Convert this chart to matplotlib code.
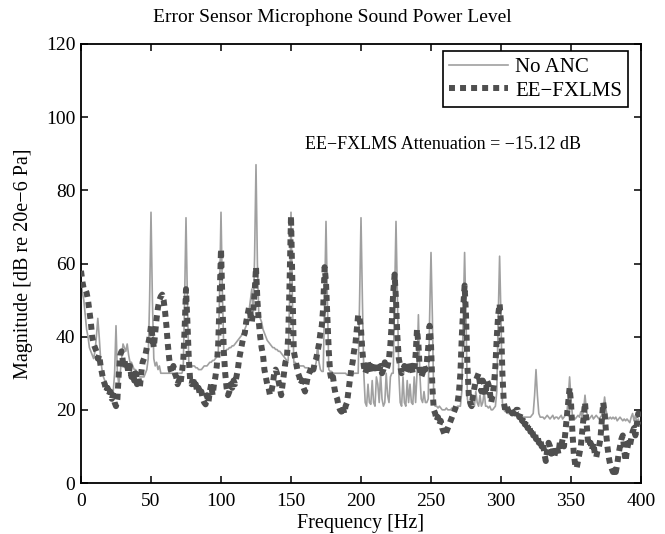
import numpy as np
import matplotlib
matplotlib.use("Agg")
import matplotlib.pyplot as plt
from matplotlib.lines import Line2D

plt.rcParams['font.family'] = ['Liberation Serif', 'DejaVu Serif']
plt.rcParams['mathtext.fontset'] = 'stix'

# Frequency grid (Hz), 1 Hz spacing
freq_hz = list(range(0, 401))

# No ANC spectrum (dB), one value per Hz from 0 to 400
no_anc_db = [
    55, 52, 50, 46, 42, 40, 37, 36, 35, 34,
    36, 40, 45, 40, 34, 31, 29, 28, 27, 26,
    25, 25, 24, 25, 30, 43, 30, 27, 30, 34,
    38, 37, 36, 38, 35, 33, 33, 32, 31, 31,
    30, 30, 29, 29, 29, 29, 30, 31, 34, 50,
    74, 50, 34, 32, 33, 31, 32, 30, 30, 30,
    30, 30, 30, 30, 30, 30, 30, 30, 30, 30,
    30, 30, 30, 31, 50, 72.5, 50, 33, 32, 32,
    32, 32, 31.5, 31.5, 31, 31, 31, 31.5, 32, 32,
    32, 32.5, 33, 33, 33.5, 33.5, 34, 34.5, 35, 52,
    74, 52, 36, 36, 36.5, 36.5, 37, 37, 37.5, 37.5,
    38, 38.5, 39, 39.5, 40, 40.5, 41, 42, 43, 44,
    47, 50, 53, 45, 62, 87, 60, 46, 45, 44,
    42, 41, 40, 39, 38.5, 38, 37.5, 37, 37, 36.5,
    36.5, 36, 36, 35.5, 35, 34.5, 34, 33.5, 33.5, 50,
    74, 50, 33, 33, 32.5, 32.5, 32, 32, 32, 32,
    31.5, 31.5, 31.5, 31, 31, 31, 31, 31.5, 33, 38,
    33, 31, 30.5, 30.5, 50, 71.5, 50, 31, 30.5, 30.5,
    30, 30, 30, 30, 30, 30, 30, 30, 30, 30,
    29.5, 29.5, 29.5, 29.5, 29.5, 30, 30, 30, 30, 50,
    72.5, 50, 30, 22, 21, 27, 22, 21.5, 28, 22,
    21, 29, 27, 22, 30, 23, 21, 22, 30, 24,
    22, 29, 30, 30, 50, 71.5, 50, 30, 22, 21,
    29, 22, 21, 28, 22, 27, 22, 21.5, 29, 22,
    30, 46, 30, 23, 22, 25, 22, 22, 23, 45,
    63, 45, 22, 21, 21, 20.5, 21, 20.5, 20, 20,
    20, 20.5, 20, 20, 20, 20.5, 20, 20, 20.5, 21,
    21, 21, 25, 45, 63, 45, 23, 21, 21, 22,
    24, 21, 25, 22, 21, 24, 21, 22, 25, 21,
    21, 20.5, 21, 20, 20, 20.5, 21, 25, 45, 62,
    45, 22, 20, 19.5, 19.5, 19, 19, 19, 19, 19,
    18.5, 18.5, 18.5, 18.5, 18, 18, 18, 18, 18, 18,
    18, 18, 18.5, 19, 24, 31, 24, 19, 18, 18,
    18, 17.5, 18, 18.5, 18, 17.5, 18, 18.5, 17.5, 18,
    18, 17.5, 18, 18.5, 17.5, 18, 18.5, 19, 23, 29,
    23, 18.5, 18, 17.5, 18, 18.5, 18, 19.5, 18, 20,
    24, 20, 18, 17.5, 18, 18.5, 17.5, 18, 18.5, 18,
    17.5, 18, 18.5, 20, 23.5, 20, 18, 17.5, 18, 17.5,
    18, 17.5, 18, 17, 17.5, 18, 17.5, 17, 17.5, 17,
    17.5, 17, 16.5, 18, 19, 17, 18.5, 16.5, 17.5, 16.5,
    16,
]

# EE-FXLMS spectrum (dB), one value per Hz from 0 to 400
ee_fxlms_db = [
    58, 55, 53, 53, 52, 50, 47, 44, 40, 38,
    37, 36, 34, 35, 32, 30, 28, 27, 25, 26,
    24, 25, 23, 24, 22, 21, 23, 30, 35, 36,
    33, 34, 31, 32, 30, 32, 29, 30, 28, 30,
    27, 29, 26, 30, 33, 34, 35, 37, 38, 40,
    43, 40, 37, 41, 45, 48, 50, 51, 51.5, 50,
    47, 43, 38, 34, 31, 30, 32, 30, 29, 27,
    28, 27, 30, 33, 42, 53, 44, 34, 28, 27,
    29, 26, 27, 25, 26, 24, 25, 23, 22, 21.5,
    24, 22, 25, 27, 24, 27, 29, 32, 38, 50,
    64, 50, 36, 30, 26, 24, 25, 27, 26, 28,
    27, 29, 31, 34, 36, 38, 40, 41, 44, 46,
    48, 46, 44, 47, 52, 59, 50, 44, 40, 37,
    35, 31, 29, 27, 26, 24, 25, 27, 30, 31,
    30, 28, 26, 24, 27, 30, 33, 34, 40, 55,
    73, 55, 36, 34, 32, 30, 29, 27, 28, 26,
    25, 27, 29, 30, 31, 32, 31, 33, 34, 36,
    38, 41, 43, 48, 59, 55, 45, 36, 30, 28,
    29, 26, 24, 23, 21, 20, 19.5, 21, 19, 21,
    22, 25, 28, 31, 33, 36, 38, 42, 46, 45,
    42, 36, 32, 30, 31, 33, 31, 32, 30, 31,
    33, 32, 30, 31, 32, 30, 31, 33, 31, 32,
    34, 38, 44, 52, 57, 50, 40, 34, 32, 30,
    31, 32, 30, 31, 33, 31, 32, 30, 31, 35,
    42, 38, 31, 29, 30, 32, 31, 33, 37, 43,
    38, 26, 20, 19, 17, 18, 16, 17, 15, 14,
    13, 14, 15, 16, 17, 18, 19, 20, 21, 22,
    25, 30, 40, 48, 54, 46, 32, 24, 22, 21,
    24, 26, 28, 29, 30, 27, 25, 28, 27, 24,
    28, 27, 25, 22, 24, 27, 32, 40, 46, 49,
    44, 30, 22, 20, 21, 20, 19, 20, 19, 20,
    19, 20, 20, 18, 19, 17, 18, 16, 17, 15,
    16, 14, 15, 13, 14, 12, 13, 11, 12, 10,
    11, 8, 6, 9, 11, 10, 8, 10, 7, 9,
    10, 8, 11, 10, 12, 10, 14, 18, 22, 26,
    22, 14, 8, 5, 4, 6, 8, 10, 14, 18,
    22, 17, 12, 10, 11, 9, 11, 8, 7, 9,
    10, 12, 17, 22, 19, 14, 10, 7, 5, 4,
    3, 4, 3, 5, 8, 10, 12, 13, 9, 6,
    9, 11, 10, 12, 14, 15, 13, 16, 19, 18,
    16,
]

series_labels = ['No ANC', 'EE\u2212FXLMS']
title_text = 'Error Sensor Microphone Sound Power Level'
xlabel_text = 'Frequency [Hz]'
ylabel_text = 'Magnitude [dB re 20e\u22126 Pa]'
note_text = 'EE\u2212FXLMS Attenuation = \u221215.12 dB'
x_ticks = [0, 50, 100, 150, 200, 250, 300, 350, 400]
y_ticks = [0, 20, 40, 60, 80, 100, 120]

fig = plt.figure(figsize=(6.65, 5.34), dpi=100)
ax = fig.add_axes([81/665, 1 - 483/534, 560/665, 439/534])

gray_c = '#a0a0a0'
dark_c = '#4f4f4f'
dot_style = (0, (1, 0.85))

ax.plot(freq_hz, no_anc_db, color=gray_c, lw=1.2, zorder=2)
ax.plot(freq_hz, ee_fxlms_db, color=dark_c, lw=4.3, linestyle=dot_style,
        dash_capstyle='butt', solid_joinstyle='miter', zorder=3)

ax.set_xlim(0, 400)
ax.set_ylim(0, 120)
ax.set_xticks(x_ticks)
ax.set_yticks(y_ticks)
ax.tick_params(direction='in', length=5, width=1.1, top=True, right=True,
               labelsize=14, colors='black')
ax.tick_params(axis='x', pad=7)
ax.tick_params(axis='y', pad=4)
for s in ax.spines.values():
    s.set_linewidth(1.3)

fig.text(0.5, 1 - 17/534, title_text, fontsize=14, ha='center', va='center')
ax.set_xlabel(xlabel_text, fontsize=14.5, labelpad=3)
ax.set_ylabel(ylabel_text, fontsize=14.5, labelpad=9)

ax.text(160, 92.5, note_text, fontsize=13, va='center', ha='left')

handles = [
    Line2D([], [], color=gray_c, lw=1.2),
    Line2D([], [], color=dark_c, lw=4.3, linestyle=dot_style, dash_capstyle='butt'),
]
leg = ax.legend(handles, series_labels, loc='upper right',
                bbox_to_anchor=(0.977, 0.984), fontsize=15,
                frameon=True, fancybox=False, framealpha=1, edgecolor='black',
                handlelength=2.8, handletextpad=0.35, borderpad=0.3,
                labelspacing=0.2, borderaxespad=0)
leg.get_frame().set_linewidth(1.2)

fig.savefig('out.png', dpi=100)
